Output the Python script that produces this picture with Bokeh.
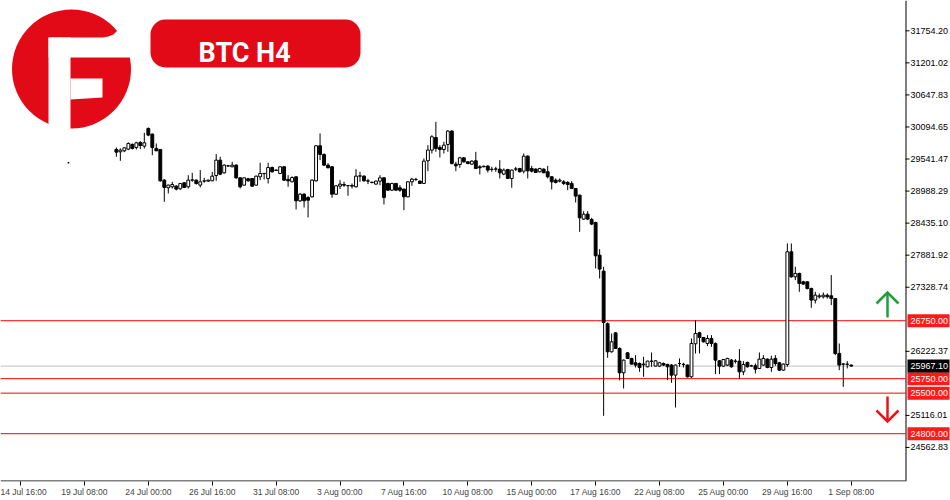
from bokeh.plotting import figure
from bokeh.models import (Range1d, FixedTicker, Label, BoxAnnotation, Span,
                          ColumnDataSource)
from bokeh.core.properties import value
from bokeh.embed import file_html
from bokeh.resources import INLINE

# ---------------- data (BTC H4, bars counted from 14 Jul 16:00, weekends skipped) ----
first_bar = 24
opens = [
    29706, 29666, 29683, 29712, 29793, 29741, 29827, 29764, 30069, 29971,
    29724, 29706, 29177, 29045, 29062, 29073, 29027, 29131, 29062, 29177,
    29177, 29091, 29160, 29160, 29165, 29257, 29522, 29303, 29420, 29407,
    29436, 29217, 29090, 29200, 29205, 29090, 29234, 29292, 29205, 29395,
    29350, 29292, 29407, 29190, 29148, 29234, 28820, 28935, 28877, 28889,
    29165, 29770, 29620, 29436, 29407, 28935, 29073, 29102, 29079, 29073,
    29062, 29246, 29246, 29160, 29140, 29108, 29160, 29217, 29120, 29004,
    29120, 29045, 29022, 28889, 29148, 29188, 29160, 29120, 29511, 29695,
    29913, 29741, 29706, 29793, 30023, 29453, 29447, 29562, 29493, 29453,
    29511, 29407, 29407, 29419, 29361, 29367, 29367, 29281, 29361, 29206,
    29367, 29378, 29332, 29591, 29378, 29367, 29321, 29367, 29321, 29235,
    29177, 29160, 29148, 29137, 29120, 29033, 28918, 28504, 28590, 28498,
    28446, 27882, 27606, 26700, 26214, 26541, 26271, 25851, 26196, 26099,
    26024, 26012, 25990, 25955, 26050, 25967, 25967, 26012, 25995, 25984,
    25811, 26010, 25995, 25984, 25782, 26352, 26542, 26461, 26358, 26444,
    26358, 26058, 25966, 25984, 26070, 26050, 26053, 25868, 26030, 25970,
    25972, 25926, 25984, 26087, 25943, 26099, 26024, 25897, 25995, 27940,
    27508, 27566, 27422, 27422, 27307, 27106, 27163, 27163, 27192, 27180,
    27134, 26185, 26001, 26001, 25984,
]
highs = [
    29741, 29724, 29741, 29827, 29810, 29839, 29850, 29994, 30086, 29982,
    29810, 29712, 29195, 29100, 29148, 29090, 29130, 29140, 29263, 29303,
    29190, 29350, 29217, 29185, 29320, 29626, 29580, 29450, 29440, 29493,
    29450, 29225, 29225, 29215, 29215, 29255, 29476, 29303, 29476, 29410,
    29365, 29418, 29418, 29263, 29240, 29240, 28950, 28950, 28900, 29190,
    29780, 29983, 29640, 29470, 29420, 29090, 29177, 29150, 29090, 29120,
    29367, 29321, 29260, 29200, 29150, 29170, 29263, 29230, 29130, 29130,
    29125, 29090, 29030, 29155, 29217, 29217, 29170, 29551, 29781, 29954,
    30184, 29781, 29839, 30040, 30040, 29493, 29580, 29575, 29500, 29520,
    29666, 29436, 29425, 29436, 29407, 29407, 29522, 29378, 29370, 29360,
    29407, 29390, 29637, 29608, 29424, 29380, 29390, 29380, 29424, 29245,
    29206, 29206, 29177, 29160, 29160, 29040, 28925, 28642, 28642, 28527,
    28460, 27986, 27681, 26720, 26530, 26550, 26290, 26080, 26205, 26110,
    26156, 26030, 26127, 26060, 26202, 26070, 26040, 26030, 26010, 26000,
    25995, 26099, 26024, 25995, 26444, 26760, 26560, 26470, 26501, 26501,
    26375, 26070, 26090, 26110, 26090, 26087, 26260, 26053, 26045, 25990,
    26012, 26202, 26156, 26099, 26145, 26156, 26040, 26012, 28084, 28084,
    27681, 27580, 27440, 27433, 27320, 27249, 27220, 27238, 27220, 27537,
    27140, 26357, 26012, 26053, 25995,
]
lows = [
    29580, 29511, 29660, 29695, 29706, 29706, 29712, 29724, 29936, 29608,
    29677, 29150, 28803, 28947, 29033, 29000, 29010, 29040, 29033, 29148,
    29100, 29050, 29131, 29150, 29160, 29165, 29263, 29290, 29410, 29400,
    29200, 29033, 29080, 29150, 29062, 29080, 29177, 29188, 29119, 29310,
    29335, 29280, 29165, 29062, 29140, 28670, 28800, 28705, 28532, 28877,
    29150, 29522, 29420, 29380, 28872, 28920, 29022, 29060, 28907, 29033,
    29050, 29148, 29150, 29108, 29120, 29100, 29090, 28757, 28990, 28990,
    28995, 28976, 28659, 28880, 29079, 29160, 29110, 29110, 29332, 29637,
    29666, 29568, 29637, 29666, 29447, 29332, 29390, 29480, 29450, 29440,
    29367, 29275, 29400, 29309, 29321, 29321, 29206, 29263, 29200, 29045,
    29332, 29310, 29292, 29206, 29309, 29300, 29310, 29295, 29206, 29016,
    29120, 29137, 29091, 29004, 29022, 28791, 28285, 28490, 28487, 28400,
    27652, 27480, 25109, 26110, 26200, 26265, 25720, 25580, 26090, 25990,
    25943, 25868, 25782, 25945, 25955, 25960, 25955, 25970, 25725, 25679,
    25253, 25955, 25943, 25770, 25765, 26185, 26185, 26375, 26312, 26300,
    25828, 25828, 25950, 25970, 25940, 26012, 25742, 25811, 25943, 25955,
    25840, 25914, 25975, 25930, 25868, 25972, 25880, 25885, 25955, 27491,
    27451, 27249, 27370, 27290, 26973, 27048, 27134, 27134, 27134, 27019,
    26156, 25897, 25609, 25926, 25960,
]
closes = [
    29660, 29695, 29735, 29810, 29724, 29821, 29775, 29821, 29954, 29741,
    29683, 29165, 29050, 29091, 29102, 29022, 29119, 29050, 29177, 29180,
    29119, 29148, 29165, 29177, 29246, 29522, 29280, 29436, 29424, 29436,
    29217, 29062, 29217, 29165, 29073, 29246, 29292, 29290, 29395, 29320,
    29345, 29407, 29177, 29165, 29223, 28820, 28935, 28820, 28831, 29177,
    29770, 29620, 29436, 29390, 28935, 29079, 29108, 29090, 29085, 29085,
    29246, 29250, 29165, 29165, 29137, 29160, 29217, 28878, 29004, 29120,
    29004, 29004, 28889, 29148, 29194, 29190, 29120, 29505, 29695, 29925,
    29724, 29706, 29781, 30023, 29465, 29424, 29562, 29493, 29465, 29505,
    29378, 29390, 29418, 29350, 29365, 29370, 29304, 29350, 29206, 29350,
    29370, 29321, 29591, 29338, 29332, 29309, 29378, 29304, 29235, 29148,
    29137, 29177, 29120, 29102, 29033, 28901, 28527, 28590, 28504, 28418,
    27871, 27641, 26720, 26214, 26386, 26272, 25851, 26070, 26099, 26001,
    25984, 25943, 26001, 26053, 26053, 26058, 26024, 25984, 25955, 25811,
    25984, 26012, 25998, 25782, 26358, 26530, 26461, 26386, 26444, 26358,
    26070, 25966, 26081, 26099, 25955, 26053, 25868, 25995, 25955, 25972,
    25914, 26087, 26099, 25943, 26087, 26012, 25897, 26001, 27940, 27508,
    27566, 27393, 27382, 27307, 27106, 27192, 27180, 27192, 27163, 27134,
    26185, 25984, 26004, 25998, 25967.1,
]
stray_bar = [12]
stray_price = [29476]

tick_labels = ["14 Jul 16:00", "19 Jul 08:00", "24 Jul 00:00", "26 Jul 16:00",
               "31 Jul 08:00", "3 Aug 00:00", "7 Aug 16:00", "10 Aug 08:00",
               "15 Aug 00:00", "17 Aug 16:00", "22 Aug 08:00", "25 Aug 00:00",
               "29 Aug 16:00", "1 Sep 08:00"]
bars_per_tick = 16
price_ticks = [31754.20, 31201.02, 30647.83, 30094.65, 29541.47, 28988.29,
               28435.10, 27881.92, 27328.74, 26222.37, 25116.01, 24562.83]
level_prices = [26750.00, 25750.00, 25500.00, 24800.00]
current_price = 25967.10

assert len(opens) == len(highs) == len(lows) == len(closes)

# ---------------- figure ----------------
RED = "#e20a17"
TAG_RED = "#ff1a1a"
FONT = "Liberation Sans"
AXIS_X = 905          # page x of the price scale line
PX_W, PX_H = 950, 481  # frame size in pixels

p = figure(width=950, height=500,
           x_range=Range1d(-5.01, 232.85), y_range=Range1d(23974.9, 32277.7),
           y_axis_location=None, output_backend="svg", toolbar_location=None,
           min_border=0, min_border_bottom=19,
           background_fill_color="white", border_fill_color="white",
           outline_line_color=None)
# pixel-like ranges for decorations (page coordinates of the frame)
p.extra_x_ranges = {"px": Range1d(0, PX_W)}
p.extra_y_ranges = {"px": Range1d(PX_H, 0)}
p.grid.visible = False

# time axis (below)
xa = p.xaxis[0]
tick_pos = [i * bars_per_tick for i in range(len(tick_labels))]
xa.ticker = FixedTicker(ticks=tick_pos)
xa.major_label_overrides = {t: lab for t, lab in zip(tick_pos, tick_labels)}
xa.major_label_text_align = "left"
xa.major_label_text_font = FONT
xa.major_label_text_font_size = "8.5px"
xa.major_label_standoff = 1
xa.major_tick_in = 0
xa.major_tick_out = 4
xa.minor_tick_line_color = None
xa.axis_line_color = None
xa.major_tick_line_color = "black"
# time axis line ends at the price scale
p.segment(x0=[0], x1=[AXIS_X], y0=[PX_H - 0.5], y1=[PX_H - 0.5],
          x_range_name="px", y_range_name="px", line_color="black", line_width=1)

# price scale (right) drawn at the chart's right edge
p.add_layout(Span(location=AXIS_X + 0.5, dimension="height", x_range_name="px",
                  line_color="black", line_width=1))
p.segment(x0=[AXIS_X] * len(price_ticks), x1=[AXIS_X + 4] * len(price_ticks),
          y0=price_ticks, y1=price_ticks, x_range_name="px",
          line_color="black", line_width=1)
p.text(x=[AXIS_X + 5] * len(price_ticks), y=price_ticks,
       text=[f"{t:.2f}" for t in price_ticks], x_range_name="px",
       text_font=value(FONT), text_font_size="9px", text_color="black",
       text_align="left", text_baseline="middle")

# horizontal levels (drawn before the candles so candles sit on top)
for lv in level_prices:
    p.segment(x0=[0], x1=[AXIS_X], y0=[lv], y1=[lv], x_range_name="px",
              line_color="#ff0000", line_width=1)
p.segment(x0=[0], x1=[AXIS_X], y0=[current_price], y1=[current_price],
          x_range_name="px", line_color="#c0c0c0", line_width=1)

# candles
n = len(opens)
xs = list(range(first_bar, first_bar + n))
src = ColumnDataSource(dict(
    x=xs,
    top=[max(o, c) for o, c in zip(opens, closes)],
    bottom=[min(o, c) for o, c in zip(opens, closes)],
    high=highs, low=lows,
    fill=["white" if c > o else "black" for o, c in zip(opens, closes)],
))
p.segment(x0="x", y0="low", x1="x", y1="high", source=src,
          line_color="black", line_width=1)
p.vbar(x="x", width=0.72, top="top", bottom="bottom", fill_color="fill",
       line_color="black", line_width=1, source=src)
p.vbar(x=stray_bar, width=0.4, top=stray_price, bottom=stray_price,
       line_color="black", line_width=1.5)

# price tags on the price scale
tag_prices = level_prices + [current_price]
tag_colors = [TAG_RED] * len(level_prices) + ["black"]
p.rect(x=[AXIS_X + 23] * len(tag_prices), y=tag_prices, width=42, height=13,
       height_units="screen", x_range_name="px", fill_color=tag_colors,
       line_color=None)
p.text(x=[AXIS_X + 5] * len(tag_prices), y=tag_prices,
       text=[f"{t:.2f}" for t in tag_prices], x_range_name="px",
       text_font=value(FONT), text_font_size="9px", text_color="white",
       text_align="left", text_baseline="middle")

# arrows
p.multi_line(xs=[[887, 887], [876, 887, 898]], ys=[[317, 292], [303, 292, 303]],
             x_range_name="px", y_range_name="px", line_color="#1e9e3c",
             line_width=2.5, line_join="miter")
p.multi_line(xs=[[887, 887], [876, 887, 898]], ys=[[396, 421], [410, 421, 410]],
             x_range_name="px", y_range_name="px", line_color="#e8141c",
             line_width=2.5, line_join="miter")

# logo
p.circle(x=[71], y=[68.5], radius=59.5, x_range_name="px", y_range_name="px",
         fill_color=RED, line_color=None)
p.patches(xs=[[48, 70, 70, 48],
              [48, 102, 108, 113, 117, 140, 140, 48],
              [70, 102, 102, 70]],
          ys=[[37, 37, 132, 132],
              [37, 37, 36, 34, 30, 30, 57, 57],
              [78, 78, 97, 99]],
          x_range_name="px", y_range_name="px", fill_color="white", line_color=None)

# title box
p.add_layout(BoxAnnotation(left=150, right=360, top=19, bottom=67,
                           x_range_name="px", y_range_name="px",
                           fill_color=RED, fill_alpha=1.0, line_color=None,
                           border_radius=15, level="overlay"))
p.add_layout(Label(x=198, y=52, x_range_name="px", y_range_name="px",
                   text="BTC H4", text_color="white", text_font="Roboto",
                   text_font_style="bold", text_font_size="27px",
                   text_align="left", text_baseline="alphabetic", level="overlay"))

open("out.html", "w").write(file_html(p, INLINE))
